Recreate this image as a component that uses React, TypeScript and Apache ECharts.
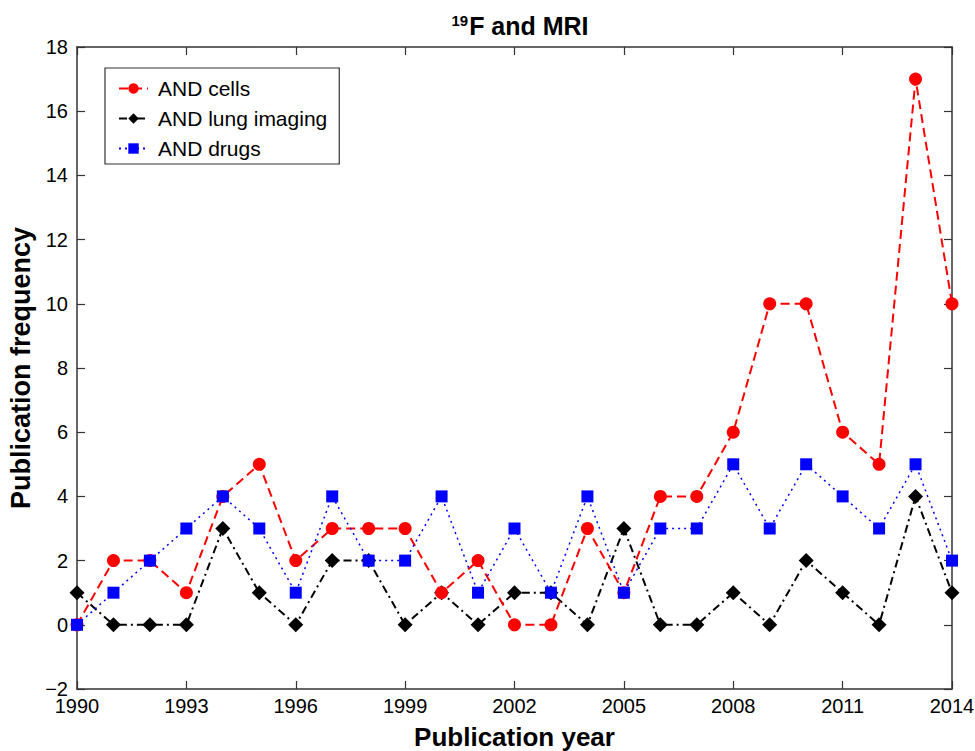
import React, { useEffect, useRef } from "react";
import * as echarts from "echarts";

const years = Array.from({ length: 25 }, (_, i) => String(1990 + i));
const cells = [0, 2, 2, 1, 4, 5, 2, 3, 3, 3, 1, 2, 0, 0, 3, 1, 4, 4, 6, 10, 10, 6, 5, 17, 10];
const lung = [1, 0, 0, 0, 3, 1, 0, 2, 2, 0, 1, 0, 1, 1, 0, 3, 0, 0, 1, 0, 2, 1, 0, 4, 1];
const drugs = [0, 1, 2, 3, 4, 3, 1, 4, 2, 2, 4, 1, 3, 1, 4, 1, 3, 3, 5, 3, 5, 4, 3, 5, 2];
const seriesNames = ["AND cells", "AND lung imaging", "AND drugs"];

const FONT = "Liberation Sans, Arial, sans-serif";

export default function App() {
  const ref = useRef<HTMLDivElement>(null);
  useEffect(() => {
    if (!ref.current) return;
    const chart = echarts.init(ref.current, null, { renderer: "svg" });
    const axisLine = { show: true, onZero: false, lineStyle: { color: "#333", width: 1.5 } };
    const tick = { show: true, inside: true, length: 8, lineStyle: { color: "#333", width: 1.2 } };
    chart.setOption({
      animation: false,
      backgroundColor: "#fff",
      textStyle: { fontFamily: FONT },
      title: {
        text: "{sup|19}{b|F and MRI}",
        left: 515,
        textAlign: "center",
        top: 8,
        textStyle: {
          rich: {
            sup: { fontSize: 15, fontWeight: "bold", fontFamily: FONT, color: "#000", verticalAlign: "top", padding: [0, 1, 9, 0] },
            b: { fontSize: 25, fontWeight: "bold", fontFamily: FONT, color: "#000" },
          },
        },
      },
      legend: {
        orient: "vertical",
        left: 105,
        top: 68,
        data: seriesNames,
        borderColor: "#333",
        borderWidth: 1.2,
        padding: [10, 12, 5, 13],
        itemGap: 9,
        itemWidth: 29,
        itemHeight: 13,
        textStyle: { fontSize: 21, color: "#000", fontFamily: FONT, padding: [0, 0, 0, 5] },
      },
      grid: { left: 77, right: 23, top: 47, bottom: 62, containLabel: false, outerBoundsMode: "none" },
      xAxis: [
        {
          type: "category",
          data: years,
          boundaryGap: false,
          axisLine,
          axisTick: { ...tick, interval: 2 },
          axisLabel: { interval: 2, fontSize: 20, color: "#000", margin: 7, fontFamily: FONT },
          splitLine: { show: false },
          name: "Publication year",
          nameLocation: "middle",
          nameGap: 35,
          nameTextStyle: { fontSize: 26, fontWeight: "bold", color: "#000", fontFamily: FONT },
        },
        {
          type: "category",
          data: years,
          boundaryGap: false,
          position: "top",
          axisLine,
          axisTick: { ...tick, interval: 2 },
          axisLabel: { show: false },
          splitLine: { show: false },
        },
      ],
      yAxis: [
        {
          type: "value",
          min: -2,
          max: 18,
          interval: 2,
          axisLine,
          axisTick: tick,
          axisLabel: { fontSize: 20, color: "#000", margin: 9, fontFamily: FONT, formatter: (v: number) => (v < 0 ? "\u2212" + Math.abs(v) : String(v)) },
          splitLine: { show: false },
          name: "Publication frequency",
          nameLocation: "middle",
          nameGap: 43,
          nameTextStyle: { fontSize: 27, fontWeight: "bold", color: "#000", fontFamily: FONT },
        },
        {
          type: "value",
          min: -2,
          max: 18,
          interval: 2,
          position: "right",
          axisLine,
          axisTick: tick,
          axisLabel: { show: false },
          splitLine: { show: false },
        },
      ],
      series: [
        {
          name: seriesNames[0],
          type: "line",
          data: cells,
          symbol: "circle",
          symbolSize: 13,
          itemStyle: { color: "#ff0000" },
          lineStyle: { color: "#ff0000", width: 2, type: [9, 5] },
          z: 3,
        },
        {
          name: seriesNames[1],
          type: "line",
          data: lung,
          symbol: "diamond",
          symbolSize: 15,
          itemStyle: { color: "#000" },
          lineStyle: { color: "#000", width: 2, type: [8, 4, 2, 4] },
          z: 2,
        },
        {
          name: seriesNames[2],
          type: "line",
          data: drugs,
          symbol: "rect",
          symbolSize: 12,
          itemStyle: { color: "#0000ff" },
          lineStyle: { color: "#0000ff", width: 1.5, type: [2, 4] },
          z: 4,
        },
      ],
    });
    return () => chart.dispose();
  }, []);
  return <div ref={ref} style={{ position: "fixed", left: 0, top: 0, width: 975, height: 751 }} />;
}
